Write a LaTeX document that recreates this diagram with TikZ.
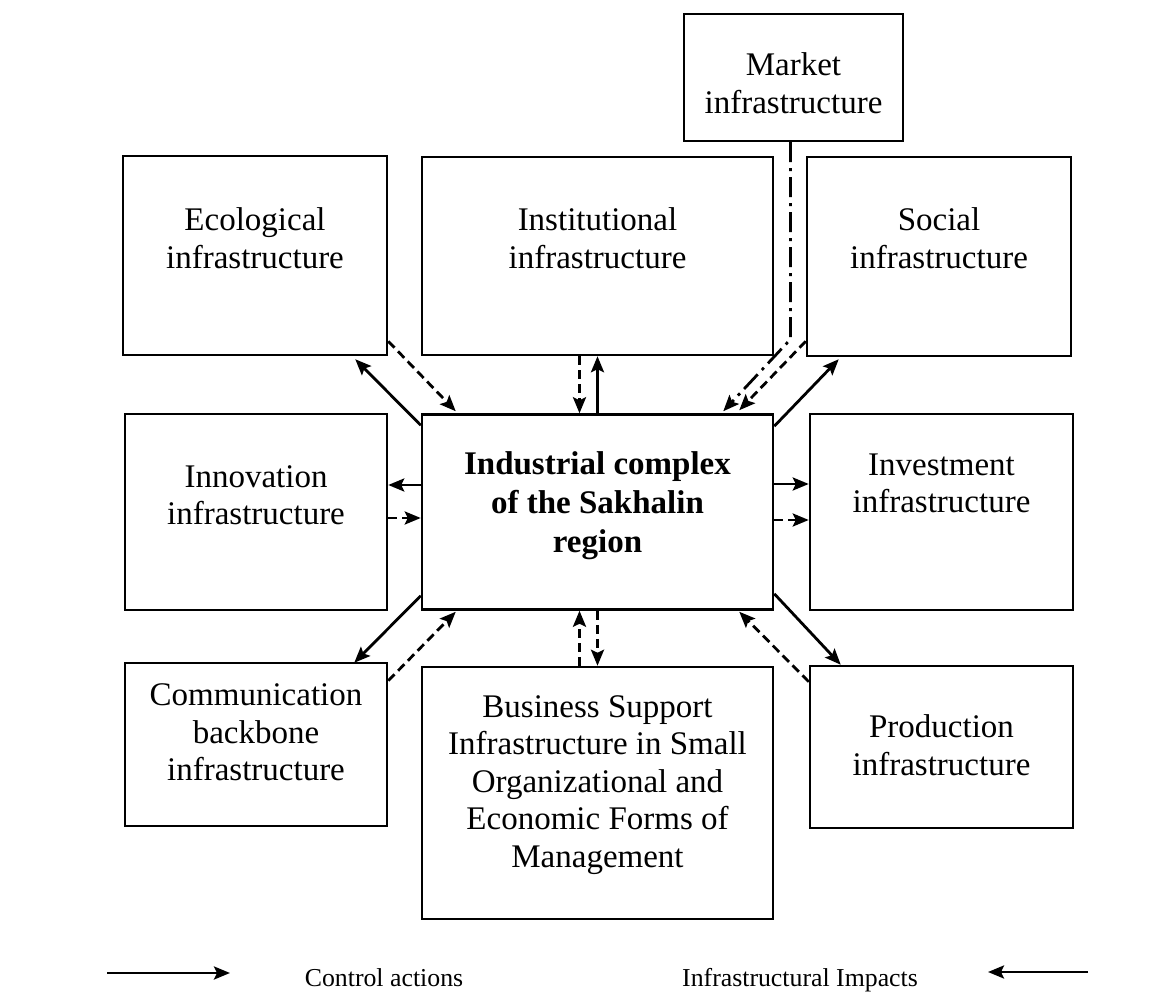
\documentclass[tikz,border=0pt]{standalone}
\usepackage{fontspec}
\setmainfont{Liberation Serif}
\usetikzlibrary{arrows.meta}

\begin{document}
\begin{tikzpicture}[
    x=1pt, y=-1pt,
    box/.style={draw, line width=2.5pt, inner sep=0pt},
    txt/.style={align=center, font=\fontsize{33}{37.5}\selectfont},
    ctrl/.style={-{Stealth[length=16pt,width=13pt,inset=3pt]}, line width=2.8pt},
    impact/.style={ctrl, dash pattern=on 9pt off 5pt},
    market/.style={ctrl, dash pattern=on 20pt off 6pt on 3pt off 6pt}
]
\useasboundingbox (0,0) rectangle (1176,992);

% infrastructure boxes
\node[box, minimum width=219pt, minimum height=127pt] (mkt) at (793.5,77.5) {};
\node[box, minimum width=264pt, minimum height=199pt] (eco) at (255,255.5) {};
\node[box, minimum width=351pt, minimum height=198pt] (inst) at (597.5,256) {};
\node[box, minimum width=264pt, minimum height=199pt] (soc) at (939,256.5) {};
\node[box, minimum width=262pt, minimum height=196pt] (inn) at (256,512) {};
\node[box, minimum width=351pt, minimum height=195pt] (ind) at (597.5,512) {};
\node[box, minimum width=263pt, minimum height=196pt] (inv) at (941.5,512) {};
\node[box, minimum width=262pt, minimum height=163pt] (com) at (256,744.5) {};
\node[box, minimum width=351pt, minimum height=252pt] (bus) at (597.5,793) {};
\node[box, minimum width=263pt, minimum height=162pt] (prd) at (941.5,747) {};

% box texts
\node[txt] (mkt-t) at (793.5,83) {Market\\infrastructure};
\node[txt] (eco-t) at (255,238) {Ecological\\infrastructure};
\node[txt] (inst-t) at (597.5,238) {Institutional\\infrastructure};
\node[txt] (soc-t) at (939,238) {Social\\infrastructure};
\node[txt] (inn-t) at (256,495) {Innovation\\infrastructure};
\node[txt, font=\fontsize{33}{39}\selectfont\bfseries] (ind-t) at (597.5,506) {Industrial complex\\of the Sakhalin\\region};
\node[txt] (inv-t) at (941.5,483.5) {Investment\\infrastructure};
\node[txt] (com-t) at (256,732.5) {Communication\\backbone\\infrastructure};
\node[txt] (bus-t) at (597.5,785) {Business Support\\Infrastructure in Small\\Organizational and\\Economic Forms of\\Management};
\node[txt] (prd-t) at (941.5,745) {Production\\infrastructure};

% upper row
\draw[ctrl] ([yshift=-12pt]ind.north west) -- ([xshift=-33pt,yshift=-3pt]eco.south east);
\draw[impact] ([yshift=15pt]eco.south east) -- ([xshift=35pt,yshift=2pt]ind.north west);
\draw[impact] ([xshift=-18pt]inst.south) -- ([xshift=-18pt]ind.north);
\draw[ctrl] (ind.north) -- (inst.south);
\draw[ctrl] ([yshift=-13pt]ind.north east) -- ([xshift=33pt,yshift=-2pt]soc.south west);
\draw[impact] ([yshift=16pt]soc.south west) -- ([xshift=-35pt,yshift=3pt]ind.north east);
\draw[market] ([xshift=-3pt]mkt.south) -- ++(0,197) -- ([xshift=-51pt,yshift=2pt]ind.north east);

% middle row
\draw[ctrl] ([yshift=27pt]ind.west) -- ([yshift=27pt]inn.east);
\draw[impact] ([yshift=-6pt]inn.east) -- ([yshift=-6pt]ind.west);
\draw[ctrl] ([yshift=28pt]ind.east) -- ([yshift=28pt]inv.west);
\draw[impact] ([yshift=-8pt]ind.east) -- ([yshift=-8pt]inv.west);

% lower row
\draw[ctrl] ([yshift=15pt]ind.south west) -- ([xshift=-34pt,yshift=-1pt]com.north east);
\draw[impact] ([yshift=-19pt]com.north east) -- ([xshift=35pt,yshift=-1pt]ind.south west);
\draw[impact] ([xshift=-18pt]bus.north) -- ([xshift=-18pt]ind.south);
\draw[impact] (ind.south) -- (bus.north);
\draw[ctrl] ([yshift=17pt]ind.south east) -- ([xshift=32pt]prd.north west);
\draw[impact] ([yshift=-17pt]prd.north west) -- ([xshift=-35pt,yshift=-1pt]ind.south east);

% legend
\coordinate (ca1) at (107,973);
\coordinate (ca2) at (230,973);
\coordinate (ia1) at (1088,972);
\coordinate (ia2) at (988,972);
\draw[ctrl] (ca1) -- (ca2);
\draw[ctrl] (ia1) -- (ia2);
\node[anchor=base, font=\fontsize{25.8}{30}\selectfont] (ctl-t) at (384,986) {Control actions};
\node[anchor=base, font=\fontsize{25.8}{30}\selectfont] (imp-t) at (800,986) {Infrastructural Impacts};
\end{tikzpicture}
\end{document}
